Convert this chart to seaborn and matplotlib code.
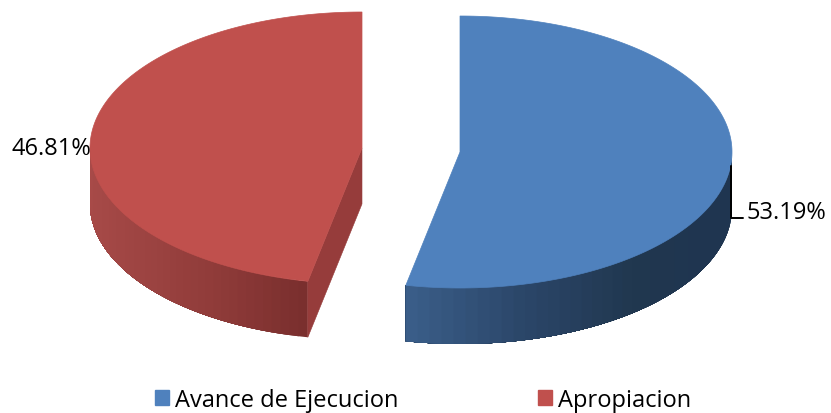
import numpy as np
import matplotlib.pyplot as plt
from matplotlib.patches import Patch
import seaborn as sns

# data
labels = ['Avance de Ejecucion', 'Apropiacion']
values = [53.19, 46.81]
colors = ['#4F81BD', '#C0504D']

sns.set_theme(style="white")
plt.rcParams['font.family'] = ['Open Sans', 'DejaVu Sans']

W, H = 831, 414
RX, RY, DEPTH = 272, 136, 56
fig = plt.figure(figsize=(W / 100, H / 100), dpi=100)
ax = fig.add_axes([0, 0, 1, 1])
ax.set_xlim(0, W)
ax.set_ylim(H, 0)
ax.axis('off')


def rim(cx, cy, a, b, n=200):
    t = np.radians(np.linspace(a, b, n))
    return cx + RX * np.sin(t), cy - RY * np.cos(t)


def side(cx, cy, a, b, stops):
    # outer wall, each band runs to the end so no seams show between them
    pal = sns.blend_palette(stops, 40)
    edges = np.linspace(a, b, 41)
    for i, c in enumerate(pal):
        x, y = rim(cx, cy, edges[i], b, 120)
        ax.fill(np.r_[x, x[::-1]], np.r_[y, y[::-1] + DEPTH],
                color=c, lw=0, zorder=2)


split = 360 * values[0] / sum(values)

# blue slice, starts at 12 o'clock and goes clockwise
bx, by = 460, 153
side(bx, by, 90, split, ['#1F3550', '#1F3550', '#20374F', '#2A4567', '#3A5D88'])
x, y = rim(bx, by, 0, split)
ax.fill(np.r_[bx, x], np.r_[by, y], color=colors[0], lw=0.5, zorder=3)

# red slice
rx, ry = 362, 149
side(rx, ry, split, 270, ['#7A2F2E', '#8F3B39', '#9C4341', '#A44846', '#A94B49'])
x, y = rim(rx, ry, split, 360)
ax.fill([rx, rx, x[0], x[0]], [ry, ry + DEPTH, y[0] + DEPTH, y[0]],
        color='#963C3B', lw=0.4, zorder=2)
ax.fill(np.r_[rx, x], np.r_[ry, y], color=colors[1], lw=0.5, zorder=3)

# labels
ax.plot([731, 731, 743], [167, 219, 219], color='black', lw=1.4, zorder=4)
ax.text(747, 213, f'{values[0]:.2f}%', fontsize=17, color='black', va='center', ha='left')
ax.text(12, 149, f'{values[1]:.2f}%', fontsize=17, color='black', va='center', ha='left', zorder=5)

handles = [Patch(color=c, label=l) for c, l in zip(colors, labels)]
ax.legend(handles=handles, ncol=2, loc='center', bbox_to_anchor=(423, 401),
          bbox_transform=ax.transData, frameon=False, fontsize=17,
          handlelength=0.59, handleheight=0.59, handletextpad=0.25, columnspacing=5.95,
          labelcolor='black', borderpad=0, borderaxespad=0)

fig.savefig('out.png', dpi=100)
